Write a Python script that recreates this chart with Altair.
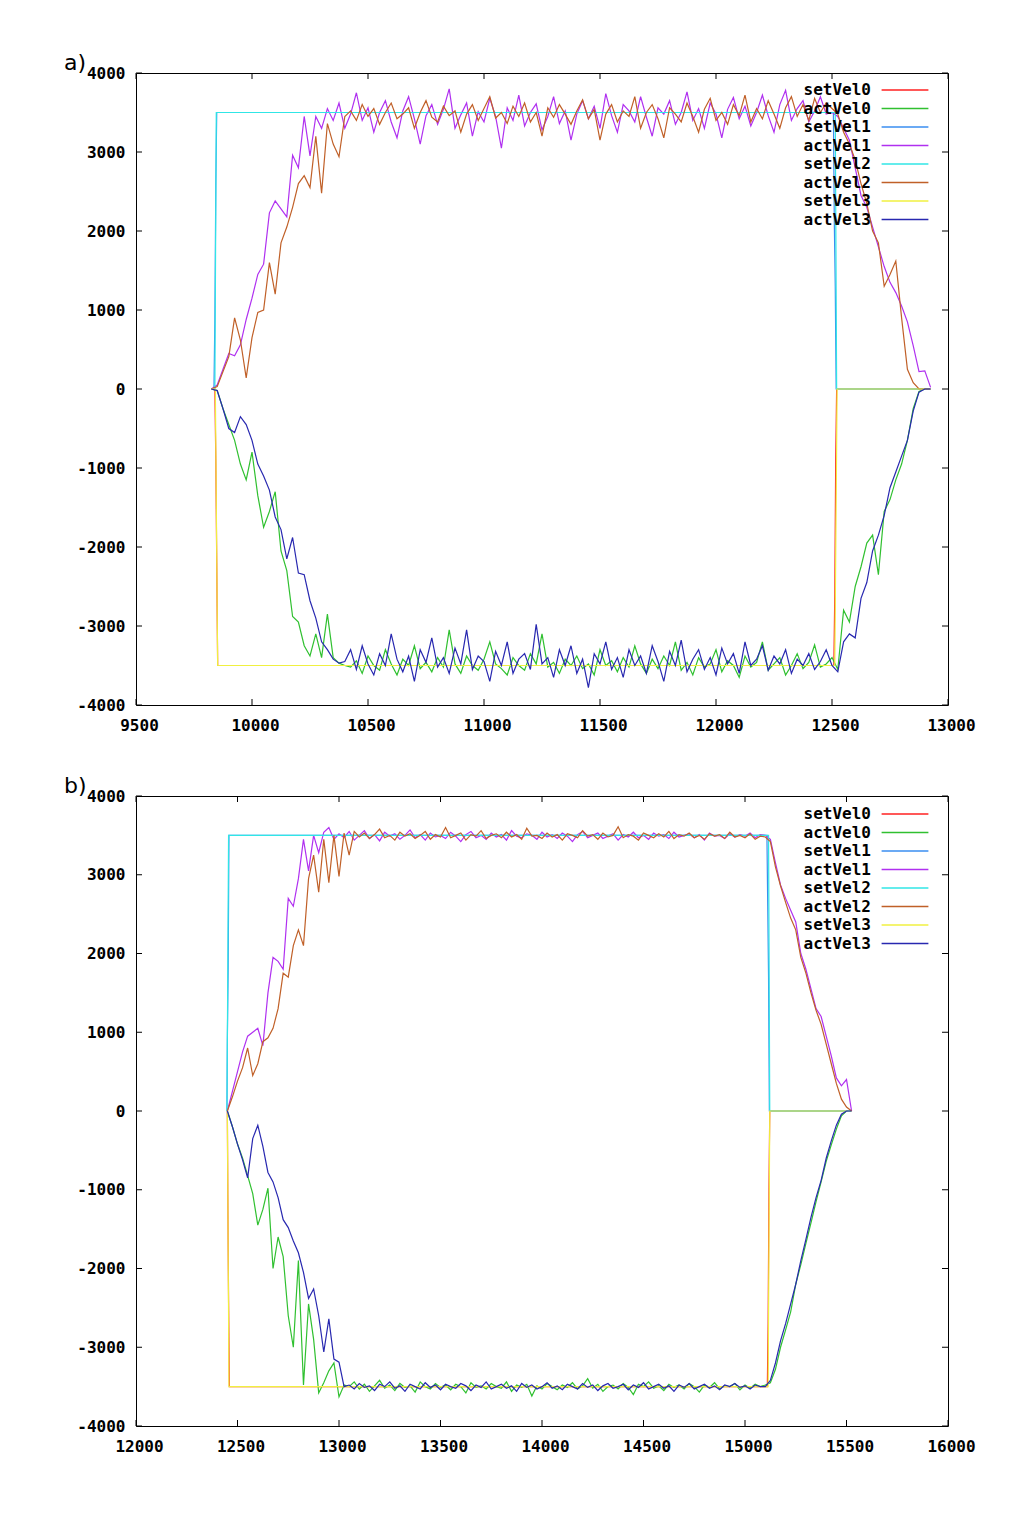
import altair as alt
import pandas as pd

NAMES = ["setVel0", "actVel0", "setVel1", "actVel1", "setVel2", "actVel2", "setVel3", "actVel3"]
COLORS = ["#ff2020", "#30c030", "#3a8ef0", "#b030f0", "#30e6e6", "#c06028", "#f0f040", "#2828b0"]

X_TICKS_A = [9500, 10000, 10500, 11000, 11500, 12000, 12500, 13000]
X_TICKS_B = [12000, 12500, 13000, 13500, 14000, 14500, 15000, 15500, 16000]
Y_TICKS = [-4000, -3000, -2000, -1000, 0, 1000, 2000, 3000, 4000]

# ---------------- panel a) ----------------
T_A = list(range(9825, 12926, 25))

SET0_A_T = [9825, 9840, 9844, 9848, 9852, 12508, 12512, 12516, 12520, 12900]
SET0_A_V = [0, 0, -900, -2200, -3500, -3500, -2600, -900, 0, 0]
SET1_A_T = [9825, 9836, 9840, 9844, 9848, 12506, 12510, 12514, 12518, 12900]
SET1_A_V = [0, 0, 900, 2600, 3500, 3500, 2100, 1300, 0, 0]
SET2_A_T = [9825, 9840, 9846, 12514, 12520, 12900]
SET2_A_V = [0, 0, 3500, 3500, 0, 0]
SET3_A_T = [9825, 9842, 9852, 12512, 12522, 12900]
SET3_A_V = [0, 0, -3500, -3500, 0, 0]

ACT0_A = [0, -20, -250, -450, -650, -950, -1150, -800, -1350, -1750,
          -1550, -1300, -2050, -2300, -2880, -2950, -3250, -3380, -3100, -3400,
          -2850, -3400, -3470, -3500,
          -3520, -3440, -3600, -3380, -3500, -3560, -3300, -3480, -3620, -3420,
          -3500, -3250, -3540, -3460, -3580, -3400, -3520, -3050, -3480, -3600,
          -3380, -3500, -3560, -3420, -3200, -3480, -3540, -3620, -3400, -3500,
          -3560, -3350, -3480, -3100, -3520, -3460, -3600, -3420, -3500, -3380,
          -3540, -3480, -3620, -3300, -3500, -3440, -3580, -3400, -3520, -3250,
          -3480, -3600, -3420, -3540, -3380, -3500, -3200, -3560, -3460, -3620,
          -3400, -3520, -3480, -3300, -3580, -3440, -3500, -3650, -3380, -3520,
          -3460, -3200, -3560, -3480, -3400, -3620, -3500, -3350, -3540, -3460,
          -3240, -3520, -3480,
          -3400, -3550, -2800, -2950, -2500, -2250, -1950, -1850, -2350, -1550,
          -1400, -1150, -950, -650, -250, -30, 0, 0]

ACT1_A = [0, 50, 250, 450, 420, 560, 880, 1150, 1450, 1580,
          2230, 2380, 2280, 2180, 2960, 2800, 3450, 2950, 3450, 3300,
          3550, 3400,
          3620, 3300, 3480, 3750, 3400, 3560, 3250, 3500, 3650, 3380,
          3180, 3520, 3700, 3420, 3100, 3460, 3600, 3350, 3540, 3800,
          3300, 3470, 3620, 3200, 3510, 3380, 3680, 3450, 3050, 3560,
          3400, 3720, 3330, 3500, 3610, 3280, 3450, 3700, 3360, 3520,
          3150, 3480, 3650, 3420, 3580, 3300, 3740, 3460, 3250, 3600,
          3520, 3380, 3700, 3440, 3200, 3560, 3480, 3650, 3350, 3500,
          3760, 3400, 3550, 3300, 3620, 3480, 3180, 3540, 3690, 3420,
          3580, 3330, 3500, 3720, 3460, 3250, 3600, 3780, 3400, 3550,
          3650, 3380, 3520, 3700, 3480,
          3500, 3450, 3300, 3150, 2800, 2450, 2300, 2050, 1800, 1550,
          1350, 1220, 1050, 850, 550, 220, 230, 20]

ACT2_A = [0, 30, 220, 410, 900, 620, 140, 650, 970, 1000,
          1600, 1200, 1850, 2050, 2300, 2600, 2700, 2550, 3200, 2480,
          3360, 3100, 2940, 3450,
          3520, 3400, 3600, 3450, 3550, 3350, 3500, 3620, 3420, 3480,
          3560, 3300, 3500, 3650, 3440, 3380, 3580, 3460, 3520, 3250,
          3480, 3600, 3400, 3550, 3700, 3430, 3500, 3360, 3580, 3450,
          3620, 3380, 3500, 3200, 3560, 3440, 3600, 3480, 3350, 3520,
          3660, 3420, 3540, 3150, 3480, 3600, 3380, 3520, 3450, 3700,
          3300, 3500, 3600, 3420, 3180, 3560, 3480, 3380, 3620, 3450,
          3250, 3540, 3680, 3400, 3500, 3350, 3600, 3460, 3720, 3380,
          3550, 3420, 3650, 3480, 3300, 3560, 3700, 3450, 3600, 3400,
          3680, 3500, 3620,
          3550, 3480, 3250, 3100, 2900, 2600, 2350, 2000, 1850, 1300,
          1450, 1620, 900, 250, 80, 0, 0, 0]

ACT3_A = [0, -20, -250, -500, -550, -350, -450, -650, -950, -1100,
          -1280, -1620, -1780, -2150, -1880, -2330, -2350, -2680, -2900, -3200,
          -3300, -3420, -3470,
          -3450, -3300, -3550, -3250, -3480, -3620, -3350, -3500, -3100, -3420,
          -3580, -3380, -3700, -3300, -3460, -3150, -3520, -3400, -3600, -3280,
          -3480, -3050, -3550, -3380, -3450, -3700, -3320, -3500, -3200, -3600,
          -3420, -3350, -3550, -2980, -3480, -3400, -3650, -3300, -3500, -3250,
          -3600, -3420, -3780, -3350, -3480, -3200, -3550, -3400, -3650, -3300,
          -3500, -3380, -3600, -3250, -3450, -3700, -3320, -3500, -3180, -3580,
          -3420, -3300, -3550, -3400, -3620, -3280, -3480, -3350, -3600, -3200,
          -3500, -3420, -3250, -3560, -3380, -3480, -3300, -3600, -3420, -3500,
          -3350, -3550, -3450, -3300,
          -3500, -3580, -3200, -3100, -3150, -2650, -2450, -2050, -1850, -1600,
          -1250, -1050, -850, -650, -280, -40, 0, 0]

# ---------------- panel b) ----------------
T_B = list(range(12450, 15526, 25))

SET0_B_T = [12450, 12452, 12456, 12460, 15110, 15114, 15118, 15122, 15505]
SET0_B_V = [0, -1000, -2400, -3500, -3500, -2700, -1000, 0, 0]
SET1_B_T = [12448, 12450, 12454, 12458, 15108, 15112, 15116, 15120, 15505]
SET1_B_V = [0, 900, 1800, 3500, 3500, 2600, 1700, 0, 0]
SET2_B_T = [12448, 12456, 15116, 15122, 15505]
SET2_B_V = [0, 3500, 3500, 0, 0]
SET3_B_T = [12450, 12458, 15114, 15122, 15505]
SET3_B_V = [0, -3500, -3500, 0, 0]

ACT0_B = [0, -200, -420, -600, -820, -1050, -1450, -1250, -980, -2000,
          -1600, -1850, -2600, -3000, -1900, -3480, -2450, -2900, -3580, -3450,
          -3300, -3200, -3630, -3480,
          -3500, -3440, -3530, -3470, -3560, -3490, -3420, -3520, -3480, -3550,
          -3460, -3510, -3490, -3570, -3440, -3500, -3530, -3460, -3510, -3480,
          -3540, -3470, -3500, -3580, -3450, -3510, -3490, -3530, -3460, -3500,
          -3520, -3440, -3560, -3480, -3510, -3470, -3620, -3490, -3530, -3460,
          -3500, -3540, -3480, -3510, -3450, -3530, -3490, -3400, -3520, -3470,
          -3560, -3500, -3480, -3530, -3460, -3510, -3600, -3470, -3500, -3440,
          -3520, -3490, -3550, -3470, -3510, -3480, -3530, -3460, -3500, -3570,
          -3480, -3510, -3450, -3530, -3490, -3500, -3460, -3540, -3480, -3520,
          -3470, -3500,
          -3480, -3450, -3280, -3000, -2780, -2550, -2200, -1950, -1680, -1420,
          -1150, -900, -640, -430, -230, -60, 0, 0]

ACT1_B = [0, 250, 500, 750, 950, 1000, 1050, 830, 1500, 1950,
          1900, 1800, 2700, 2600, 2950, 3450, 3050, 3500, 3280, 3540,
          3600, 3450,
          3520, 3470, 3550, 3440, 3500, 3560, 3460, 3510, 3430, 3540,
          3490, 3520, 3450, 3500, 3570, 3470, 3510, 3440, 3530, 3480,
          3500, 3460, 3540, 3490, 3420, 3510, 3550, 3470, 3500, 3450,
          3530, 3480, 3510, 3440, 3560, 3490, 3470, 3520, 3500, 3450,
          3540, 3480, 3510, 3460, 3530, 3490, 3420, 3510, 3550, 3470,
          3500, 3530, 3460, 3490, 3520, 3440, 3510, 3480, 3540, 3470,
          3500, 3450, 3530, 3490, 3510, 3460, 3540, 3480, 3500, 3520,
          3470, 3510, 3440, 3530, 3490, 3500, 3460, 3520, 3480, 3510,
          3490, 3530, 3470, 3510,
          3500, 3450, 3150, 2870, 2700, 2550, 2400, 2000, 1800, 1550,
          1300, 1200, 950, 700, 420, 320, 400, 0]

ACT2_B = [0, 180, 380, 550, 800, 450, 600, 880, 930, 1050,
          1300, 1750, 1700, 2100, 2300, 2100, 2950, 3250, 2780, 3450,
          2900, 3500, 2980, 3530, 3250, 3550,
          3480, 3530, 3460, 3510, 3580, 3470, 3500, 3440, 3540, 3490,
          3520, 3460, 3500, 3550, 3450, 3510, 3480, 3600, 3470, 3500,
          3530, 3440, 3510, 3490, 3560, 3460, 3500, 3520, 3470, 3540,
          3480, 3510, 3450, 3590, 3490, 3500, 3460, 3530, 3480, 3510,
          3440, 3520, 3500, 3470, 3560, 3490, 3510, 3450, 3530, 3480,
          3500, 3610, 3470, 3510, 3490, 3440, 3530, 3500, 3470, 3520,
          3480, 3550, 3460, 3510, 3490, 3530, 3470, 3500, 3450, 3520,
          3490, 3510, 3460, 3540, 3480, 3500, 3470, 3520, 3450, 3490,
          3480, 3420, 3100, 2860, 2650, 2450, 2300, 1950, 1750, 1500,
          1280, 1100, 850, 600, 350, 150, 50, 0]

ACT3_B = [0, -200, -420, -620, -850, -350, -180, -450, -780, -900,
          -1100, -1380, -1480, -1650, -1800, -2050, -2380, -2260, -2600, -3060,
          -2640, -3150, -3190, -3500,
          -3480, -3530, -3460, -3510, -3490, -3550, -3470, -3500, -3440, -3520,
          -3490, -3560, -3470, -3500, -3530, -3450, -3510, -3480, -3540, -3470,
          -3500, -3520, -3460, -3490, -3550, -3480, -3510, -3440, -3530, -3500,
          -3470, -3520, -3490, -3560, -3460, -3510, -3480, -3530, -3500, -3450,
          -3520, -3490, -3540, -3470, -3500, -3530, -3460, -3510, -3480, -3550,
          -3490, -3460, -3520, -3500, -3470, -3540, -3480, -3510, -3450, -3530,
          -3500, -3470, -3520, -3490, -3560, -3480, -3510, -3460, -3530, -3500,
          -3470, -3520, -3490, -3540, -3480, -3500, -3460, -3510, -3490, -3530,
          -3480, -3500,
          -3500, -3420, -3200, -2920, -2700, -2450, -2200, -1900, -1630, -1350,
          -1100, -880, -600, -380, -180, -40, 0, 0]


def build_df(t_grid, sets, acts):
    rows = []
    for k in range(4):
        st, sv = sets[k]
        if len(st) != len(sv):
            raise ValueError(f"set {k}: {len(st)} vs {len(sv)}")
        for i, (t, v) in enumerate(zip(st, sv)):
            rows.append({"t": t, "v": v, "series": f"setVel{k}", "i": i})
        av = acts[k]
        if len(av) != len(t_grid):
            raise ValueError(f"act {k}: {len(av)} vs grid {len(t_grid)}")
        for i, (t, v) in enumerate(zip(t_grid, av)):
            rows.append({"t": t, "v": v, "series": f"actVel{k}", "i": i})
    return pd.DataFrame(rows)


df_a = build_df(T_A,
                [(SET0_A_T, SET0_A_V), (SET1_A_T, SET1_A_V), (SET2_A_T, SET2_A_V), (SET3_A_T, SET3_A_V)],
                [ACT0_A, ACT1_A, ACT2_A, ACT3_A])
df_b = build_df(T_B,
                [(SET0_B_T, SET0_B_V), (SET1_B_T, SET1_B_V), (SET2_B_T, SET2_B_V), (SET3_B_T, SET3_B_V)],
                [ACT0_B, ACT1_B, ACT2_B, ACT3_B])

FONT = "DejaVu Sans Mono"
FS = 16
W = 812
TICK = 6


def make_panel(df, xdom, xticks, h, label, title_dx, legend_x, legend_y):
    xscale = alt.Scale(domain=xdom, nice=False, zero=False)
    yscale = alt.Scale(domain=[-4000, 4000], nice=False, zero=False)
    xaxis = alt.Axis(values=xticks, title=None, labelExpr="'' + datum.value", labelFlush=False,
                     labelOffset=3, labelPadding=12, ticks=False, domain=False, grid=False)
    yaxis = alt.Axis(values=Y_TICKS, title=None, labelExpr="'' + datum.value", labelFlush=False,
                     labelPadding=11, ticks=False, domain=False, grid=False)
    X = alt.X("t:Q", scale=xscale, axis=xaxis)
    Y = alt.Y("v:Q", scale=yscale, axis=yaxis)
    # line sample drawn to the right of each label (gnuplot style key)
    legend = alt.Legend(orient="none", legendX=legend_x, legendY=legend_y, title=None,
                        symbolType="M-3.9,0L3.9,0", symbolSize=144, symbolStrokeWidth=1.5,
                        symbolFillColor="transparent",
                        labelAlign="right", labelOffset={"expr": "-42"}, rowPadding=2.5,
                        padding=0, labelFont=FONT, labelFontSize=FS, labelFontWeight="bold",
                        labelColor="black", labelLimit=200)
    color = alt.Color("series:N", scale=alt.Scale(domain=NAMES, range=COLORS), legend=legend)

    layers = []
    for name in NAMES:
        layers.append(
            alt.Chart(df).transform_filter(alt.datum.series == name)
            .mark_line(strokeWidth=1.2, clip=True)
            .encode(x=X, y=Y, color=color, order="i:Q")
        )
    xt = pd.DataFrame({"t": xticks})
    yt = pd.DataFrame({"v": Y_TICKS})
    layers.append(alt.Chart(xt).mark_rule(color="black", strokeWidth=1)
                  .encode(x=X, y=alt.value(0), y2=alt.value(TICK)))
    layers.append(alt.Chart(xt).mark_rule(color="black", strokeWidth=1)
                  .encode(x=X, y=alt.value(h), y2=alt.value(h - TICK)))
    layers.append(alt.Chart(yt).mark_rule(color="black", strokeWidth=1)
                  .encode(y=Y, x=alt.value(0), x2=alt.value(TICK)))
    layers.append(alt.Chart(yt).mark_rule(color="black", strokeWidth=1)
                  .encode(y=Y, x=alt.value(W), x2=alt.value(W - TICK)))
    return alt.layer(*layers).properties(
        width=W, height=h,
        title=alt.TitleParams(label, anchor="start", frame="group", dx=title_dx, dy=12, offset=2,
                              font="DejaVu Sans", fontSize=22, fontWeight="normal", color="black"),
    )


panel_a = make_panel(df_a, [9500, 13000], X_TICKS_A, 632, "a)", -72, 761, 9)
panel_b = make_panel(df_b, [12000, 16000], X_TICKS_B, 630, "b)", -72, 761, 10)

chart = (
    alt.vconcat(panel_a, panel_b, spacing=40)
    .resolve_scale(color="independent")
    .properties(padding={"left": 55, "top": 43, "right": 5, "bottom": 5}, background="white")
    .configure_view(stroke="black", strokeWidth=1)
    .configure_axis(labelFont=FONT, labelFontWeight="bold", labelFontSize=FS, labelColor="black")
)

chart.save("out.html", embed_options={"renderer": "svg", "actions": False})
